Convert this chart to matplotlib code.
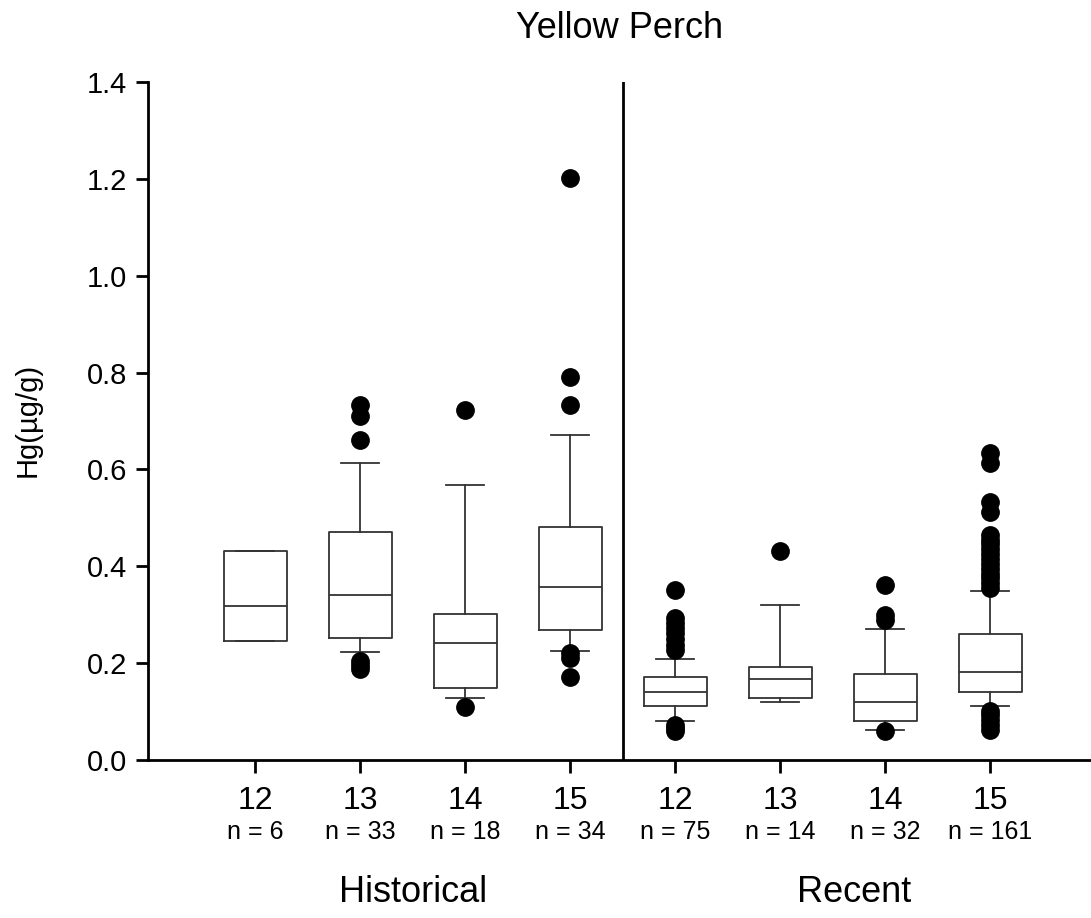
import matplotlib
matplotlib.use("Agg")
import matplotlib.pyplot as plt
import matplotlib.transforms as mtransforms

plt.rcParams['font.family'] = ['Liberation Sans', 'DejaVu Sans']

# data
ages = ["12", "13", "14", "15", "12", "13", "14", "15"]
n_counts = [6, 33, 18, 34, 75, 14, 32, 161]
groups = ["Historical", "Recent"]

q1 = [0.246, 0.251, 0.148, 0.268, 0.111, 0.129, 0.080, 0.141]
med = [0.317, 0.341, 0.241, 0.357, 0.141, 0.167, 0.120, 0.181]
q3 = [0.432, 0.471, 0.301, 0.482, 0.171, 0.193, 0.178, 0.260]
whis_lo = [0.246, 0.223, 0.129, 0.226, 0.080, 0.120, 0.063, 0.111]
whis_hi = [0.432, 0.613, 0.568, 0.671, 0.209, 0.321, 0.270, 0.349]
fliers = [
    [],
    [0.734, 0.711, 0.661, 0.205, 0.197, 0.188],
    [0.723, 0.110],
    [1.202, 0.791, 0.732, 0.221, 0.211, 0.172],
    [0.351, 0.293, 0.283, 0.272, 0.262, 0.250, 0.238, 0.228, 0.072, 0.066, 0.060],
    [0.432],
    [0.361, 0.300, 0.290, 0.060],
    [0.633, 0.613, 0.533, 0.513, 0.465, 0.455, 0.445, 0.435, 0.425, 0.415, 0.405,
     0.395, 0.385, 0.375, 0.365, 0.355, 0.102, 0.092, 0.082, 0.072, 0.062],
]

stats = []
for i in range(len(ages)):
    stats.append({"med": med[i], "q1": q1[i], "q3": q3[i],
                  "whislo": whis_lo[i], "whishi": whis_hi[i], "fliers": fliers[i]})

fig = plt.figure(figsize=(10.91, 9.18), dpi=100)
ax = fig.add_axes([0.1357, 0.1721, 0.8643, 0.7386])

positions = list(range(1, len(ages) + 1))
line_col = "#333333"
ax.bxp(stats, positions=positions, widths=0.6, showfliers=True,
       boxprops=dict(color=line_col, linewidth=1.3),
       medianprops=dict(color=line_col, linewidth=1.3),
       whiskerprops=dict(color=line_col, linewidth=1.3),
       capprops=dict(color=line_col, linewidth=1.3),
       capwidths=0.36,
       flierprops=dict(marker='o', markerfacecolor='black', markeredgecolor='black',
                       markersize=12.5, linestyle='none'))

# divider between historical and recent
ax.axvline(4.5, color='black', linewidth=2)

ax.set_xlim(-0.02, 8.96)
ax.set_ylim(0, 1.4)
ax.set_yticks([0.0, 0.2, 0.4, 0.6, 0.8, 1.0, 1.2, 1.4])
ax.set_yticklabels(["%.1f" % v for v in ax.get_yticks()])
ax.set_xticks(positions)
ax.set_xticklabels(ages, fontsize=23)

for s in ["top", "right"]:
    ax.spines[s].set_visible(False)
for s in ["left", "bottom"]:
    ax.spines[s].set_linewidth(2)

ax.tick_params(axis='y', direction='out', length=9, width=2, labelsize=21, pad=6)
ax.tick_params(axis='x', direction='out', length=9, width=2, pad=10)

trans = mtransforms.blended_transform_factory(ax.transData, fig.transFigure)
for x, n in zip(positions, n_counts):
    ax.text(x, 1 - 832 / 918, "n = %d" % n, transform=trans, ha='center', va='center',
            fontsize=18)

ax.text(2.5, 1 - 893 / 918, groups[0], transform=trans, ha='center', va='center', fontsize=26)
ax.text(6.7, 1 - 893 / 918, groups[1], transform=trans, ha='center', va='center', fontsize=26)

fig.text(0.568, 1 - 28 / 918, "Yellow Perch", ha='center', va='center', fontsize=26)
fig.text(28 / 1091, 1 - 420 / 918, "Hg(µg/g)", rotation=90, ha='center', va='center', fontsize=21)

fig.savefig("out.png", dpi=100)
